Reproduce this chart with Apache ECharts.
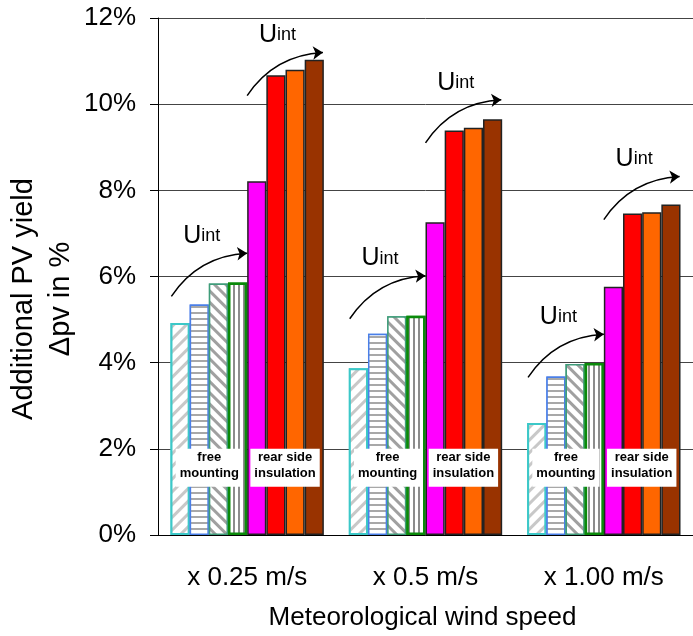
<!DOCTYPE html>
<html lang="en">
<head>
  <meta charset="UTF-8">
  <title>Additional PV yield</title>
  <style>
    html, body { margin: 0; padding: 0; background: #fff; }
    #main { width: 693px; height: 636px; }
  </style>
</head>
<body>
<div id="main"></div>
<script src="https://cdn.jsdelivr.net/npm/echarts@6/dist/echarts.min.js"></script>
<script type="text/javascript">
var categories = ['x 0.25 m/s', 'x 0.5 m/s', 'x 1.00 m/s'];
var yTicks = [0, 2, 4, 6, 8, 10, 12];

// free mounting (hatched bars)
var free1 = [4.92, 3.87, 2.60];
var free2 = [5.35, 4.67, 3.68];
var free3 = [5.84, 5.08, 3.97];
var free4 = [5.86, 5.09, 3.99];
// rear side insulation (solid bars)
var rear1 = [8.21, 7.26, 5.76];
var rear2 = [10.67, 9.39, 7.46];
var rear3 = [10.80, 9.45, 7.49];
var rear4 = [11.03, 9.65, 7.67];

// where the U_int arrows start (in %)
var arrowFree = [5.54, 5.02, 3.66];
var arrowRear = [10.20, 9.10, 7.32];
var boxLevel = 1.56;

var FONT = 'Liberation Sans';

function hatch(rot, gap, width, color) {
  return {
    symbol: 'rect',
    symbolSize: 1,
    dashArrayX: [1, 0],
    dashArrayY: [width, gap],
    rotation: rot,
    color: color,
    backgroundColor: '#fff'
  };
}

function barSeries(name, data, style) {
  return {
    name: name,
    type: 'bar',
    data: data,
    barGap: 0,
    barCategoryGap: '14%',
    itemStyle: style,
    silent: true
  };
}

// arrows + labels live on a hidden 0..3 value axis (one unit per category)
var arrowData = [];
var labelData = [];
for (var i = 0; i < categories.length; i++) {
  arrowData.push({coords: [[i + 0.075, arrowFree[i]], [i + 0.5, arrowFree[i] + 1.0]]});
  arrowData.push({coords: [[i + 0.5, arrowRear[i]], [i + 0.925, arrowRear[i] + 1.0]]});
  labelData.push({value: [i + 0.245, arrowFree[i] + 1.35], label: {formatter: '{u|U}{s|int}'}});
  labelData.push({value: [i + 0.67, arrowRear[i] + 1.35], label: {formatter: '{u|U}{s|int}'}});
  labelData.push({value: [i + 0.2875, boxLevel], label: {formatter: '{b|free\nmounting}'}});
  labelData.push({value: [i + 0.7125, boxLevel], label: {formatter: '{b|rear side\ninsulation}'}});
}

var myChart = echarts.init(document.getElementById('main'));
var option = {
  animation: false,
  backgroundColor: '#fff',
  textStyle: {fontFamily: FONT},
  grid: {left: 158, right: -8, top: 18, bottom: 97},
  xAxis: [
    {
      type: 'category',
      data: categories,
      axisLine: {lineStyle: {color: '#000', width: 1}},
      axisTick: {length: 9, lineStyle: {color: '#000'}},
      axisLabel: {fontSize: 26, color: '#000', margin: 30, fontFamily: FONT},
      name: 'Meteorological wind speed',
      nameLocation: 'middle',
      nameGap: 70,
      nameTextStyle: {fontSize: 26, color: '#000', fontFamily: FONT, padding: [0, 6, 0, 0]}
    },
    {type: 'value', min: 0, max: 3, show: false}
  ],
  yAxis: {
    type: 'value',
    min: yTicks[0],
    max: yTicks[yTicks.length - 1],
    interval: 2,
    axisLine: {show: true, lineStyle: {color: '#000', width: 1}},
    axisTick: {show: true, length: 8, lineStyle: {color: '#000'}},
    axisLabel: {formatter: '{value}%', fontSize: 26, color: '#000', margin: 22, fontFamily: FONT},
    splitLine: {lineStyle: {color: '#444', width: 1}}
  },
  graphic: [{
    type: 'text',
    x: 42,
    y: 299,
    rotation: Math.PI / 2,
    style: {
      text: 'Additional PV yield\n\u0394pv in %',
      fontSize: 29,
      fontFamily: FONT,
      fill: '#000',
      lineHeight: 37,
      textAlign: 'center',
      textVerticalAlign: 'middle',
      align: 'center',
      verticalAlign: 'middle'
    }
  }],
  series: [
    barSeries('free 1', free1, {borderColor: '#3cc8c8', borderWidth: 2, decal: hatch(-Math.PI / 4, 6, 3, '#c8c8c8')}),
    barSeries('free 2', free2, {borderColor: '#4a7fe8', borderWidth: 1.5, decal: hatch(0, 4, 2, '#a8a8a8')}),
    barSeries('free 3', free3, {borderColor: '#3f9c7a', borderWidth: 1.5, decal: hatch(Math.PI / 4, 5, 3, '#a0a0a0')}),
    barSeries('free 4', free4, {borderColor: '#0a8a0a', borderWidth: 2.5, decal: hatch(Math.PI / 2, 3, 2, '#8c8c8c')}),
    barSeries('rear 1', rear1, {color: '#ff00ff', borderColor: '#222', borderWidth: 1.5}),
    barSeries('rear 2', rear2, {color: '#ff0000', borderColor: '#222', borderWidth: 1.5}),
    barSeries('rear 3', rear3, {color: '#ff6600', borderColor: '#222', borderWidth: 1.5}),
    barSeries('rear 4', rear4, {color: '#993300', borderColor: '#222', borderWidth: 1.5}),
    {
      type: 'lines',
      coordinateSystem: 'cartesian2d',
      xAxisIndex: 1,
      yAxisIndex: 0,
      z: 4,
      silent: true,
      symbol: ['none', 'arrow'],
      symbolSize: 10,
      lineStyle: {color: '#000', width: 1.5, curveness: 0.25, opacity: 1},
      data: arrowData
    },
    {
      type: 'scatter',
      xAxisIndex: 1,
      yAxisIndex: 0,
      z: 5,
      silent: true,
      symbolSize: 1,
      itemStyle: {color: 'rgba(0,0,0,0)', opacity: 1},
      label: {
        show: true,
        position: 'inside',
        backgroundColor: '#fff',
        opacity: 1,
        padding: [1, 6, 5, 6],
        rich: {
          u: {fontSize: 25, color: '#000', fontFamily: FONT},
          s: {fontSize: 18, color: '#000', fontFamily: FONT},
          b: {fontSize: 13, fontWeight: 'bold', color: '#000', fontFamily: FONT, lineHeight: 16, align: 'center', padding: [0, -2, 0, -2]}
        }
      },
      data: labelData
    }
  ]
};
myChart.setOption(option);
</script>
</body>
</html>
